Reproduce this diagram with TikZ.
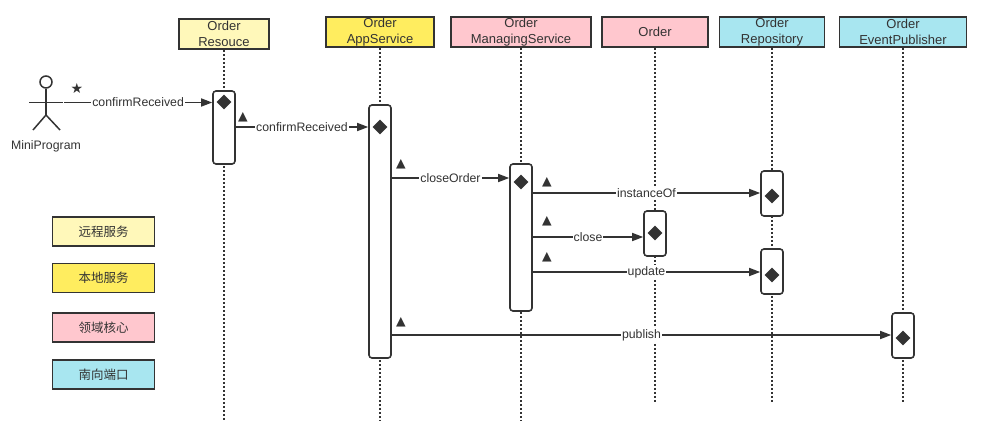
\documentclass[tikz,border=0pt]{standalone}
\usepackage{fontspec}
\setmainfont{Liberation Sans}
\newfontfamily\cjk{Noto Sans CJK SC}
\newfontfamily\symfont{DejaVu Sans}
\usetikzlibrary{arrows.meta,shapes.geometric}
\definecolor{ink}{HTML}{333333}
\definecolor{remote}{HTML}{FFF8BA}
\definecolor{local}{HTML}{FFED5F}
\definecolor{core}{HTML}{FFC7CE}
\definecolor{port}{HTML}{A8E6F0}
\begin{document}
\begin{tikzpicture}[x=1pt,y=-1pt,
  hdr/.style={draw=ink,line width=1.8pt,text=ink,font=\fontsize{13}{15.5}\selectfont,align=center,inner sep=0pt,minimum height=30pt},
  legendbox/.style={draw=ink,line width=1.8pt,text=ink,font=\cjk\fontsize{12.5}{14}\selectfont,inner sep=0pt,minimum width=102pt,minimum height=29pt},
  act/.style={draw=ink,line width=1.6pt,fill=white,rounded corners=3pt,minimum width=22pt,inner sep=0pt},
  dia/.style={diamond,fill=ink,inner sep=0pt,minimum width=15pt,minimum height=15pt},
  life/.style={draw=ink,line width=1.8pt,dash pattern=on 1.8pt off 2.2pt},
  msg/.style={draw=ink,line width=1.5pt,-{Triangle[length=11pt,width=8pt]}},
  lbl/.style={fill=white,text=ink,inner sep=1pt,font=\fontsize{12.3}{14}\selectfont},
  tri/.style={text=ink,inner sep=0pt,font=\symfont\fontsize{12.5}{12.5}\selectfont},
  stick/.style={draw=ink,line width=1.5pt}]
\useasboundingbox (0,0) rectangle (983,421);
% headers
\node[hdr,fill=remote,minimum width=90pt] (res) at (224,34) {Order\\Resouce};
\node[hdr,fill=local,minimum width=108pt] (app) at (380,32) {Order\\AppService};
\node[hdr,fill=core,minimum width=140pt] (mgr) at (521,32) {Order\\ManagingService};
\node[hdr,fill=core,minimum width=106pt] (ord) at (655,32) {Order};
\node[hdr,fill=port,minimum width=105pt] (repo) at (772,32) {Order\\Repository};
\node[hdr,fill=port,minimum width=127pt] (pub) at (903,32) {Order\\EventPublisher};
% lifeline ends
\coordinate (resEnd) at (224,420);
\coordinate (appEnd) at (380,420);
\coordinate (mgrEnd) at (521,420);
\coordinate (ordEnd) at (655,403);
\coordinate (repoEnd) at (772,403);
\coordinate (pubEnd) at (903,403);
\draw[life] (res.south) -- (resEnd);
\draw[life] (app.south) -- (appEnd);
\draw[life] (mgr.south) -- (mgrEnd);
\draw[life] (ord.south) -- (ordEnd);
\draw[life] (repo.south) -- (repoEnd);
\draw[life] (pub.south) -- (pubEnd);
% activations
\node[act,minimum height=73pt] (a1) at (224,127.5) {};
\node[act,minimum height=253pt] (a2) at (380,231.5) {};
\node[act,minimum height=147pt] (a3) at (521,237.5) {};
\node[act,minimum height=45pt] (a4) at (655,233.5) {};
\node[act,minimum height=45pt] (a5) at (772,193.5) {};
\node[act,minimum height=45pt] (a6) at (772,271.5) {};
\node[act,minimum height=45pt] (a7) at (903,335.5) {};
\node[dia] (d1) at (224,102) {};
\node[dia] (d2) at (380,127) {};
\node[dia] (d3) at (521,182) {};
\node[dia] (d4) at (655,233) {};
\node[dia] (d5) at (772,196) {};
\node[dia] (d6) at (772,275) {};
\node[dia] (d7) at (903,338) {};
% actor
\node[circle,draw=ink,line width=1.5pt,minimum size=12pt,inner sep=0pt] (head) at (46,82) {};
\coordinate (hip) at (46,115);
\coordinate (armL) at (29,102.5);
\coordinate (armR) at (63,102.5);
\coordinate (footL) at (33,130);
\coordinate (footR) at (60,130);
\draw[stick] (head.south) -- (hip);
\draw[stick] (armL) -- (armR);
\draw[stick] (footL) -- (hip) -- (footR);
\node[text=ink,font=\fontsize{12.3}{14}\selectfont] (mp) at (46,146) {MiniProgram};
% messages
\coordinate (m1) at (64,102.5);
\coordinate (m2) at (224,127);
\coordinate (m3) at (380,178);
\coordinate (m4) at (521,193);
\coordinate (m5) at (521,237);
\coordinate (m6) at (521,272);
\coordinate (m7) at (380,335);
\draw[msg] (m1) -- node[lbl] (l1) {confirmReceived} (m1 -| a1.west);
\draw[msg] (m2 -| a1.east) -- node[lbl] (l2) {confirmReceived} (m2 -| a2.west);
\draw[msg] (m3 -| a2.east) -- node[lbl] (l3) {closeOrder} (m3 -| a3.west);
\draw[msg] (m4 -| a3.east) -- node[lbl] (l4) {instanceOf} (m4 -| a5.west);
\draw[msg] (m5 -| a3.east) -- node[lbl] (l5) {close} (m5 -| a4.west);
\draw[msg] (m6 -| a3.east) -- node[lbl] (l6) {update} (m6 -| a6.west);
\draw[msg] (m7 -| a2.east) -- node[lbl] (l7) {publish} (m7 -| a7.west);
% marks
\node[tri,font=\symfont\fontsize{14}{14}\selectfont] (s1) at (77,88) {★};
\node[tri] (t2) at (243,117) {▲};
\node[tri] (t3) at (401,164) {▲};
\node[tri] (t4) at (547,182) {▲};
\node[tri] (t5) at (547,221) {▲};
\node[tri] (t6) at (547,257) {▲};
\node[tri] (t7) at (401,322) {▲};
% legend
\node[legendbox,fill=remote] (g1) at (103.5,231.5) {远程服务};
\node[legendbox,fill=local] (g2) at (103.5,278) {本地服务};
\node[legendbox,fill=core] (g3) at (103.5,327.5) {领域核心};
\node[legendbox,fill=port] (g4) at (103.5,374.5) {南向端口};
\end{tikzpicture}
\end{document}
